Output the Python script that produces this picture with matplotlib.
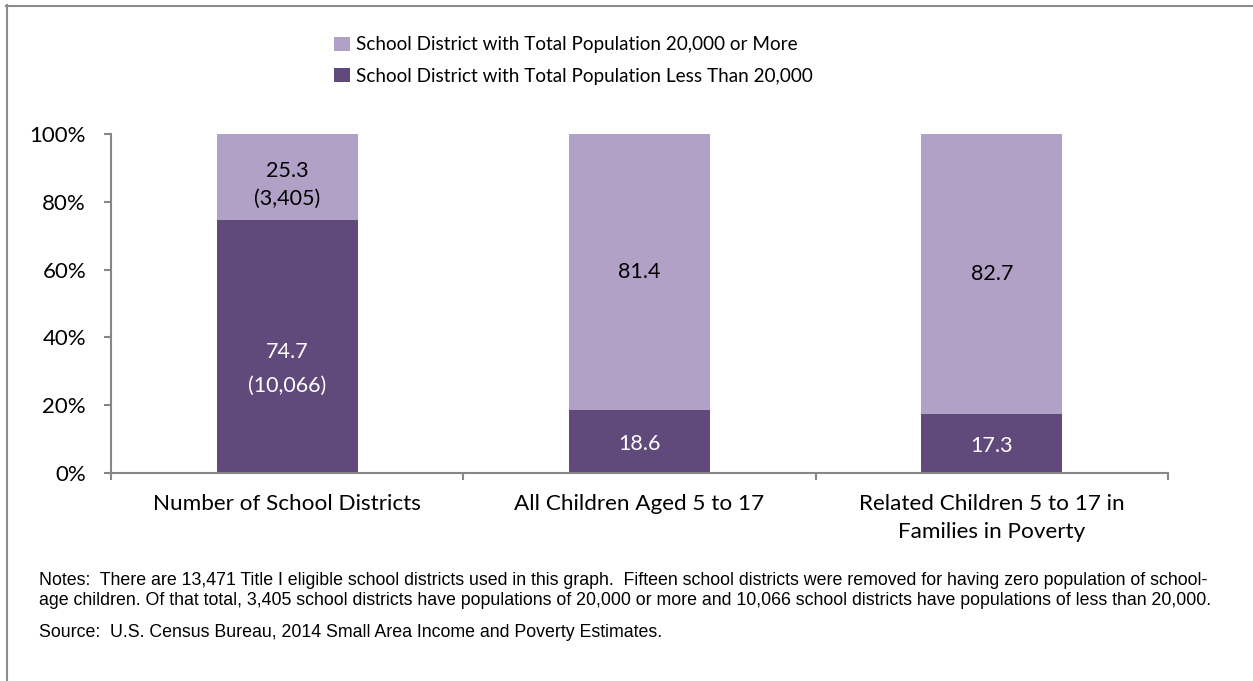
import numpy as np
import matplotlib.pyplot as plt
from matplotlib.lines import Line2D
from matplotlib import font_manager

categories = ["Number of School Districts", "All Children Aged 5 to 17",
              "Related Children 5 to 17 in\nFamilies in Poverty"]
less_20k = [74.7, 18.6, 17.3]
more_20k = [25.3, 81.4, 82.7]
less_labels = ["74.7\n(10,066)", "18.6", "17.3"]
more_labels = ["25.3\n(3,405)", "81.4", "82.7"]
series_names = ["School District with Total Population 20,000 or More",
                "School District with Total Population Less Than 20,000"]

light = "#B2A1C7"
dark = "#604A7B"
grey = "#868686"

names = {f.name for f in font_manager.fontManager.ttflist}
main_font = "Lato" if "Lato" in names else "DejaVu Sans"
note_font = "Liberation Sans" if "Liberation Sans" in names else "DejaVu Sans"
plt.rcParams["font.family"] = main_font

fig = plt.figure(figsize=(12.53, 6.81), dpi=100)
ax = fig.add_axes([111/1253, 1-473/681, (1168-111)/1253, (473-134)/681])

x = np.arange(len(categories))
b1 = ax.bar(x, less_20k, width=0.4, color=dark, zorder=2)
b2 = ax.bar(x, more_20k, width=0.4, bottom=less_20k, color=light, zorder=2)

for i in range(len(x)):
    two = "\n" in less_labels[i]
    ax.annotate(less_labels[i], (x[i], less_20k[i]/2), xytext=(0, -16 if two else -2),
                textcoords="offset points", ha="center", va="center",
                color="white", fontsize=15.5, linespacing=1.85 if two else 1.2)
    two = "\n" in more_labels[i]
    ax.annotate(more_labels[i], (x[i], less_20k[i] + more_20k[i]/2), xytext=(0, -5.5 if two else 0),
                textcoords="offset points", ha="center", va="center",
                color="black", fontsize=15.5, linespacing=1.5)

ax.set_xlim(-0.5, 2.5)
ax.set_ylim(0, 100)
ax.set_yticks([0, 20, 40, 60, 80, 100])
ax.set_yticklabels(["0%", "20%", "40%", "60%", "80%", "100%"])
ax.set_xticks([-0.5, 0.5, 1.5, 2.5])
ax.set_xticklabels([])
ax.set_xticks(x, minor=True)
ax.set_xticklabels(categories, minor=True, fontsize=16.2, linespacing=1.5, va="top")
ax.tick_params(axis="x", which="minor", length=0, pad=15)
ax.tick_params(axis="x", which="major", length=5, color=grey, width=1.5)
ax.tick_params(axis="y", length=5, color=grey, width=1.5, labelsize=16, pad=13)
for s in ["top", "right"]:
    ax.spines[s].set_visible(False)
for s in ["left", "bottom"]:
    ax.spines[s].set_color(grey)
    ax.spines[s].set_linewidth(1.5)

leg = fig.legend([b2, b1], series_names, loc="upper left",
                 bbox_to_anchor=(325/1253, 1-27/681), frameon=False,
                 fontsize=13.6, handlelength=0.8, handleheight=0.8,
                 handletextpad=0.36, labelspacing=0.75, borderpad=0)

notes = ("Notes:  There are 13,471 Title I eligible school districts used in this graph.  "
         "Fifteen school districts were removed for having zero population of school-\n"
         "age children. Of that total, 3,405 school districts have populations of 20,000 or more "
         "and 10,066 school districts have populations of less than 20,000.")
source = "Source:  U.S. Census Bureau, 2014 Small Area Income and Poverty Estimates."
fig.text(39/1253, 1-572/681, notes, family=note_font, fontsize=12.8, va="top", linespacing=1.2)
fig.text(39/1253, 1-624/681, source, family=note_font, fontsize=12.8, va="top")

fig.add_artist(Line2D([6.5/1253, 6.5/1253], [0, 1-5/681], color="#8c8c8c", lw=1.5))
fig.add_artist(Line2D([6/1253, 1], [1-5.5/681, 1-5.5/681], color="#8c8c8c", lw=1.5))

fig.savefig("out.png", dpi=100)
